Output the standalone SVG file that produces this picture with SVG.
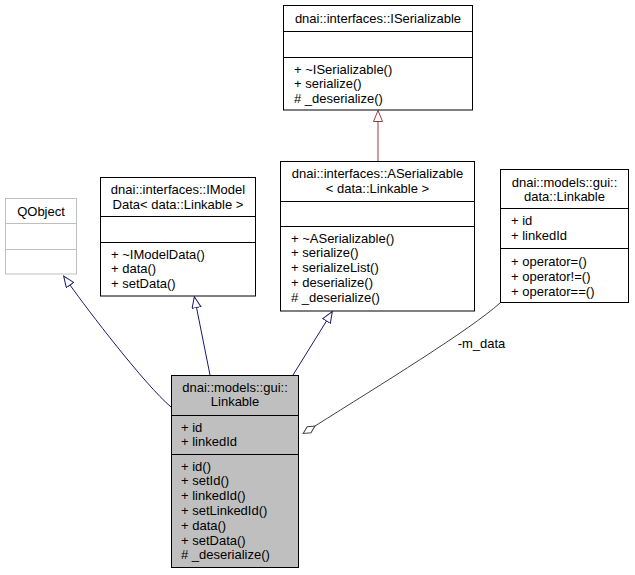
<svg xmlns="http://www.w3.org/2000/svg" width="635" height="575" viewBox="0 0 635 575">
<defs>
<style>
text{font-family:"Liberation Sans",Arial,sans-serif;font-size:13px;fill:#000}
.c{text-anchor:middle}
.box{fill:#fff;stroke:#000;stroke-width:1}
.sel{fill:#bfbfbf;stroke:#000;stroke-width:1}
.ext{fill:#fff;stroke:#bfbfbf;stroke-width:1}
.div{stroke:#000;stroke-width:1}
.divx{stroke:#bfbfbf;stroke-width:1}
.pub{fill:none;stroke:#191970;stroke-width:1}
.priv{fill:none;stroke:#9c3b3b;stroke-width:1}
.agg{fill:none;stroke:#404040;stroke-width:1}
</style>
<marker id="triB" markerUnits="userSpaceOnUse" markerWidth="13" markerHeight="11" refX="0.5" refY="5" orient="auto" viewBox="0 0 13 11">
<path d="M0.5,0.5 L11.5,5 L0.5,9.5 Z" fill="#fff" stroke="#191970" stroke-width="1"/>
</marker>
<marker id="triR" markerUnits="userSpaceOnUse" markerWidth="13" markerHeight="11" refX="0.5" refY="5" orient="auto" viewBox="0 0 13 11">
<path d="M0.5,0.5 L11.5,5 L0.5,9.5 Z" fill="#fff" stroke="#9c3b3b" stroke-width="1"/>
</marker>
<marker id="dia" markerUnits="userSpaceOnUse" markerWidth="16" markerHeight="10" refX="15" refY="5" orient="auto" viewBox="0 0 16 10">
<path d="M1,5 L8,1.5 L15,5 L8,8.5 Z" fill="#fff" stroke="#404040" stroke-width="1"/>
</marker>
</defs>
<rect width="635" height="575" fill="#fff"/>

<g id="edges">
<path class="pub" d="M171,407 C145,385 87,309 70,285" marker-end="url(#triB)"/>
<path class="pub" d="M210,375 L196.5,307.5" marker-end="url(#triB)"/>
<path class="pub" d="M293,375 L326.5,321" marker-end="url(#triB)"/>
<path class="priv" d="M378,161 L378,121.5" marker-end="url(#triR)"/>
<path class="agg" d="M315,426 C380,385 470,330 500,303" marker-start="url(#dia)"/>
<text x="481.5" y="347.5" class="c">-m_data</text>
</g>

<g id="ISerializable">
<rect class="box" x="283.5" y="5.5" width="189" height="104.5"/>
<line class="div" x1="283.5" y1="31.5" x2="472.5" y2="31.5"/>
<line class="div" x1="283.5" y1="57.5" x2="472.5" y2="57.5"/>
<text x="378" y="23" class="c">dnai::interfaces::ISerializable</text>
<text x="294" y="73.5">+ ~ISerializable()</text>
<text x="294" y="88">+ serialize()</text>
<text x="294" y="102.5"># _deserialize()</text>
</g>

<g id="ASerializable">
<rect class="box" x="280.5" y="161.5" width="194" height="149.5"/>
<line class="div" x1="280.5" y1="201.5" x2="474.5" y2="201.5"/>
<line class="div" x1="280.5" y1="226.5" x2="474.5" y2="226.5"/>
<text x="377.5" y="177.5" class="c">dnai::interfaces::ASerializable</text>
<text x="377.5" y="192.5" class="c">&lt; data::Linkable &gt;</text>
<text x="291" y="242.5">+ ~ASerializable()</text>
<text x="291" y="257.3">+ serialize()</text>
<text x="291" y="272">+ serializeList()</text>
<text x="291" y="286.8">+ deserialize()</text>
<text x="291" y="301.5"># _deserialize()</text>
</g>

<g id="IModelData">
<rect class="box" x="100.5" y="177.5" width="155" height="118.5"/>
<line class="div" x1="100.5" y1="216.5" x2="255.5" y2="216.5"/>
<line class="div" x1="100.5" y1="242.5" x2="255.5" y2="242.5"/>
<text x="178" y="193.5" class="c">dnai::interfaces::IModel</text>
<text x="178" y="208.5" class="c">Data&lt; data::Linkable &gt;</text>
<text x="111" y="258.5">+ ~IModelData()</text>
<text x="111" y="273">+ data()</text>
<text x="111" y="287.5">+ setData()</text>
</g>

<g id="QObject">
<rect class="ext" x="5.5" y="198.5" width="71" height="75.5"/>
<line class="divx" x1="5.5" y1="223.5" x2="76.5" y2="223.5"/>
<line class="divx" x1="5.5" y1="249.5" x2="76.5" y2="249.5"/>
<text x="41" y="215.5" class="c">QObject</text>
</g>

<g id="DataLinkable">
<rect class="box" x="500.5" y="169.5" width="128" height="133"/>
<line class="div" x1="500.5" y1="208.5" x2="628.5" y2="208.5"/>
<line class="div" x1="500.5" y1="248.5" x2="628.5" y2="248.5"/>
<text x="564.5" y="186.5" class="c">dnai::models::gui::</text>
<text x="564.5" y="200.5" class="c">data::Linkable</text>
<text x="511" y="224.5">+ id</text>
<text x="511" y="239.5">+ linkedId</text>
<text x="511" y="265.5">+ operator=()</text>
<text x="511" y="280.5">+ operator!=()</text>
<text x="511" y="295.5">+ operator==()</text>
</g>

<g id="Linkable">
<rect class="sel" x="171.5" y="375.5" width="127" height="192"/>
<line class="div" x1="171.5" y1="415.5" x2="298.5" y2="415.5"/>
<line class="div" x1="171.5" y1="454.5" x2="298.5" y2="454.5"/>
<text x="235" y="391.5" class="c">dnai::models::gui::</text>
<text x="235" y="405.5" class="c">Linkable</text>
<text x="181" y="431.5">+ id</text>
<text x="181" y="445.5">+ linkedId</text>
<text x="181" y="470.5">+ id()</text>
<text x="181" y="485.3">+ setId()</text>
<text x="181" y="500.1">+ linkedId()</text>
<text x="181" y="514.9">+ setLinkedId()</text>
<text x="181" y="529.7">+ data()</text>
<text x="181" y="544.5">+ setData()</text>
<text x="181" y="559.3"># _deserialize()</text>
</g>
</svg>
